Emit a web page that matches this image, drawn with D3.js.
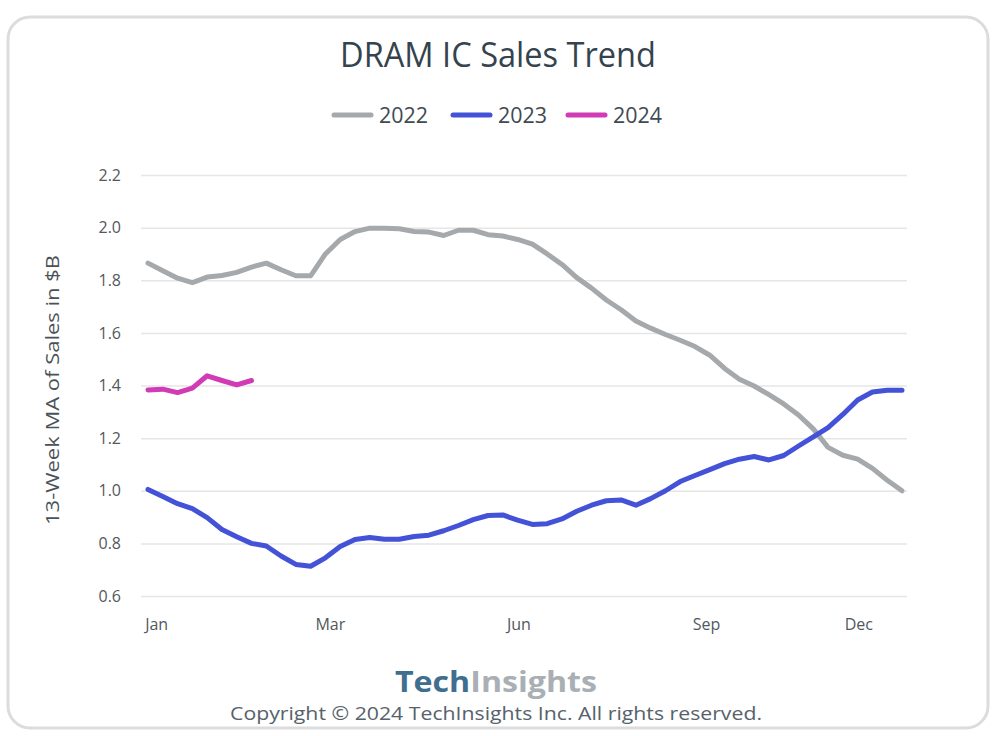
<!DOCTYPE html>
<html>
<head>
<meta charset="utf-8">
<script src="https://cdn.jsdelivr.net/npm/d3@7"></script>
<style>
  html, body { margin: 0; padding: 0; background: #ffffff; }
  svg { display: block; }
</style>
</head>
<body>
<svg id="chart" width="1000" height="736"></svg>
<script>
// ---- data ----
const weeks = d3.range(1, 53);
const series2022 = [1.865, 1.836, 1.808, 1.791, 1.812, 1.818, 1.830, 1.850, 1.865, 1.840, 1.817, 1.817,
  1.900, 1.955, 1.985, 1.998, 1.998, 1.996, 1.985, 1.983, 1.970, 1.990, 1.990, 1.973, 1.968, 1.955,
  1.937, 1.900, 1.860, 1.810, 1.770, 1.725, 1.688, 1.645, 1.618, 1.594, 1.572, 1.548, 1.515, 1.465,
  1.424, 1.398, 1.365, 1.330, 1.288, 1.235, 1.165, 1.135, 1.120, 1.085, 1.040, 1.000];
const series2023 = [1.005, 0.978, 0.951, 0.932, 0.898, 0.853, 0.825, 0.800, 0.790, 0.752, 0.720, 0.713,
  0.745, 0.788, 0.815, 0.822, 0.816, 0.816, 0.826, 0.831, 0.848, 0.868, 0.890, 0.906, 0.908, 0.888,
  0.872, 0.875, 0.893, 0.922, 0.945, 0.962, 0.965, 0.945, 0.970, 1.000, 1.035, 1.058, 1.080, 1.103,
  1.120, 1.130, 1.117, 1.134, 1.170, 1.205, 1.240, 1.290, 1.345, 1.375, 1.382, 1.382];
const series2024 = [1.383, 1.386, 1.373, 1.390, 1.437, 1.419, 1.402, 1.419];
const seriesNames = ["2022", "2023", "2024"];
const seriesColors = ["#a6a9ac", "#4452d8", "#d13bb5"];
const yTicks = [0.6, 0.8, 1.0, 1.2, 1.4, 1.6, 1.8, 2.0, 2.2];
const xTickLabels = ["Jan", "Mar", "Jun", "Sep", "Dec"];
const xTickWeeks = [1.55, 13.3, 26.05, 38.75, 49.05];

// ---- layout ----
const svg = d3.select("#chart");
const plot = { left: 141, right: 907, top: 175, bottom: 596 };

// card
svg.append("rect")
  .attr("x", 8).attr("y", 17).attr("width", 980).attr("height", 711)
  .attr("rx", 22).attr("ry", 22)
  .attr("fill", "#ffffff").attr("stroke", "#dcdcdc").attr("stroke-width", 3);

const x = d3.scaleLinear().domain([1, 52]).range([148, 902]);
const y = d3.scaleLinear().domain([0.6, 2.2]).range([plot.bottom, plot.top]);

// title
svg.append("text")
  .attr("x", 498).attr("y", 67)
  .attr("text-anchor", "middle")
  .attr("font-family", "Open Sans, sans-serif")
  .attr("font-size", 34)
  .attr("fill", "#34434e")
  .attr("textLength", 316).attr("lengthAdjust", "spacingAndGlyphs")
  .text("DRAM IC Sales Trend");

// legend
const legendX = [334, 453, 568];
seriesNames.forEach((name, i) => {
  const g = svg.append("g").attr("transform", `translate(${legendX[i]},115)`);
  g.append("line").attr("x1", 0).attr("x2", 37).attr("y1", 0).attr("y2", 0)
    .attr("stroke", seriesColors[i]).attr("stroke-width", 5).attr("stroke-linecap", "round");
  g.append("text").attr("x", 45).attr("y", 7.5)
    .attr("font-family", "Open Sans, sans-serif").attr("font-size", 21)
    .attr("fill", "#404a52")
    .attr("textLength", 49).attr("lengthAdjust", "spacingAndGlyphs")
    .text(name);
});

// gridlines + y axis
const yAxis = d3.axisLeft(y).tickValues(yTicks).tickFormat(d3.format(".1f"))
  .tickSize(-(plot.right - plot.left)).tickPadding(20);
const gy = svg.append("g").attr("transform", `translate(${plot.left},0)`).call(yAxis);
gy.select(".domain").remove();
gy.selectAll(".tick line").attr("stroke", "#e6e6e6").attr("stroke-width", 1.5);
gy.selectAll(".tick text")
  .attr("font-family", "Open Sans, sans-serif").attr("font-size", 16)
  .attr("fill", "#52585d");

// x axis labels
const xAxis = d3.axisBottom(x).tickValues(xTickWeeks)
  .tickFormat((d, i) => xTickLabels[i]).tickSize(0).tickPadding(23);
const gx = svg.append("g").attr("transform", `translate(0,${plot.bottom})`).call(xAxis);
gx.select(".domain").remove();
gx.selectAll(".tick text")
  .attr("font-family", "Open Sans, sans-serif").attr("font-size", 16)
  .attr("fill", "#52585d");

// y axis title
svg.append("text")
  .attr("transform", "translate(59,390) rotate(-90)")
  .attr("text-anchor", "middle")
  .attr("font-family", "Open Sans, sans-serif").attr("font-size", 19)
  .attr("fill", "#4a5258")
  .attr("textLength", 270).attr("lengthAdjust", "spacingAndGlyphs")
  .text("13-Week MA of Sales in $B");

// lines
const line = d3.line().x((d, i) => x(weeks[i])).y(d => y(d));
[series2022, series2023, series2024].forEach((s, i) => {
  svg.append("path").datum(s)
    .attr("d", line)
    .attr("fill", "none")
    .attr("stroke", seriesColors[i])
    .attr("stroke-width", 5)
    .attr("stroke-linejoin", "round")
    .attr("stroke-linecap", "round");
});

// footer logo
const logo = svg.append("text")
  .attr("x", 496).attr("y", 692)
  .attr("text-anchor", "middle")
  .attr("font-family", "Open Sans, sans-serif").attr("font-size", 29)
  .attr("font-weight", "bold")
  .attr("textLength", 202).attr("lengthAdjust", "spacingAndGlyphs");
logo.append("tspan").attr("fill", "#3f6e8e").text("Tech");
logo.append("tspan").attr("fill", "#a9afb4").text("Insights");

svg.append("text")
  .attr("x", 496).attr("y", 720)
  .attr("text-anchor", "middle")
  .attr("font-family", "Open Sans, sans-serif").attr("font-size", 18)
  .attr("fill", "#56626b")
  .attr("textLength", 532).attr("lengthAdjust", "spacingAndGlyphs")
  .text("Copyright \u00A9 2024 TechInsights Inc.  All rights reserved.");
</script>
</body>
</html>
